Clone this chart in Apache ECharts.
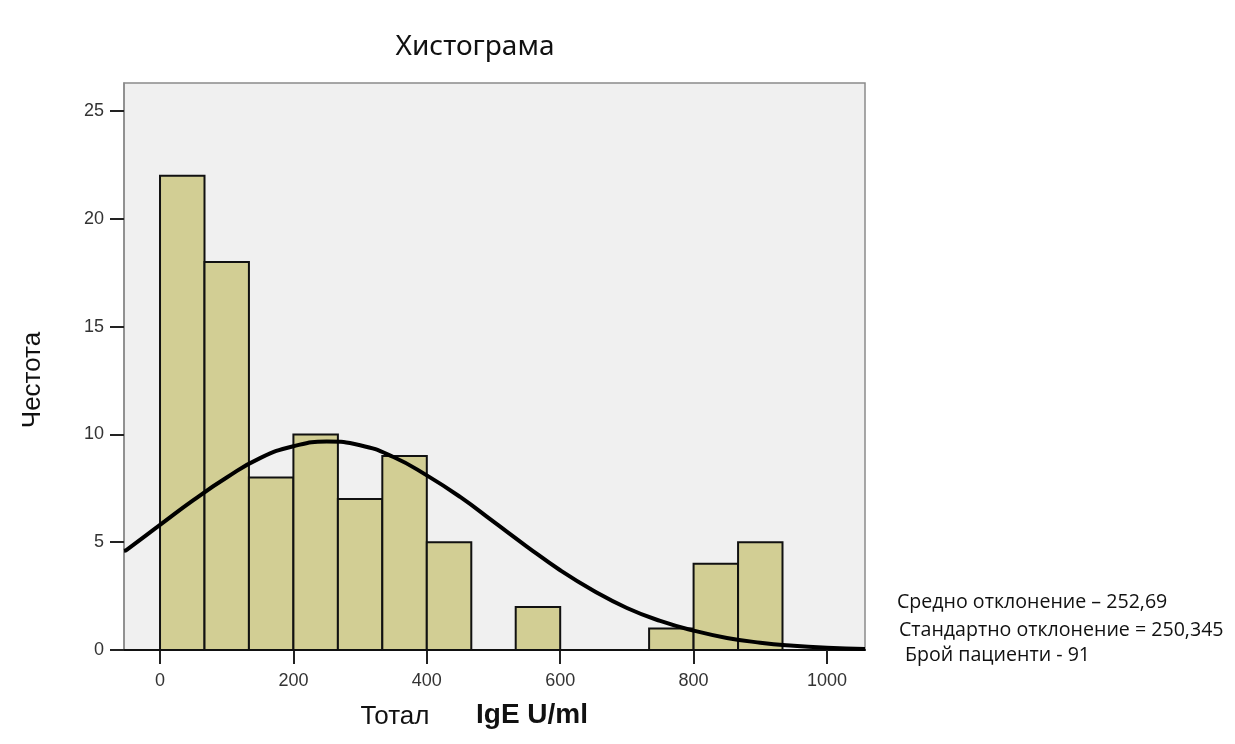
<!DOCTYPE html>
<html><head><meta charset="utf-8">
<script src="https://cdn.jsdelivr.net/npm/echarts@6/dist/echarts.min.js"></script>
<style>html,body{margin:0;padding:0;background:#fff}#c{width:1235px;height:744px}</style>
</head><body><div id="c"></div>
<script>
// Histogram bins (lower edge, upper edge, count)
var binStart = [0, 66.7, 133.3, 200, 266.7, 333.3, 400, 533.3, 733.3, 800, 866.7];
var binEnd   = [66.7, 133.3, 200, 266.7, 333.3, 400, 466.7, 600, 800, 866.7, 933.3];
var counts   = [22, 18, 8, 10, 7, 9, 5, 2, 1, 4, 5];
// Fitted normal curve
var curveX = [-54, -50, 0, 50, 100, 150, 200, 250, 300, 350, 400, 450, 500, 550, 600, 650, 700, 750, 800, 850, 900, 950, 1000, 1057];
var curveY = [4.6, 4.65, 5.8, 6.95, 8.0, 8.9, 9.45, 9.67, 9.5, 8.95, 8.1, 7.1, 5.95, 4.8, 3.7, 2.75, 1.95, 1.35, 0.9, 0.56, 0.34, 0.2, 0.11, 0.05];
var xTicks = [0, 200, 400, 600, 800, 1000];
var yTicks = [0, 5, 10, 15, 20, 25];
var titleText = 'Хистограма';
var yName = 'Честота';
var xName1 = 'Тотал';
var xName2 = 'IgE U/ml';
var notes = ['Средно отклонение – 252,69', 'Стандартно отклонение = 250,345', 'Брой пациенти - 91'];

var bins = binStart.map(function (s, i) { return [s, binEnd[i], counts[i]]; });
var curve = curveX.map(function (x, i) { return [x, curveY[i]]; });

var chart = echarts.init(document.getElementById('c'));
chart.setOption({
  animation: false,
  backgroundColor: '#ffffff',
  grid: { left: 124, top: 83, right: 370, bottom: 94, show: true, backgroundColor: '#f0f0f0', borderColor: '#8a8a8a', borderWidth: 1.5 },
  xAxis: {
    type: 'value', min: -54, max: 1057,
    splitLine: { show: false },
    axisLine: { lineStyle: { color: '#111', width: 2 } },
    axisTick: { customValues: xTicks, length: 14, lineStyle: { color: '#222', width: 2 } },
    axisLabel: { customValues: xTicks, formatter: function (v) { return String(v); }, color: '#333', fontFamily: 'Liberation Sans', fontSize: 18, margin: 22 }
  },
  yAxis: {
    type: 'value', min: 0, max: 26.3,
    splitLine: { show: false },
    axisLine: { show: true, onZero: false, lineStyle: { color: '#8a8a8a', width: 1.5 } },
    axisTick: { show: true, customValues: yTicks, length: 14, lineStyle: { color: '#222', width: 2 } },
    axisLabel: { customValues: yTicks, color: '#333', fontFamily: 'Liberation Sans', fontSize: 18, margin: 20 }
  },
  series: [
    {
      type: 'custom', z: 2,
      data: bins,
      encode: { x: [0, 1], y: 2 },
      renderItem: function (params, api) {
        var p0 = api.coord([api.value(0), api.value(2)]);
        var p1 = api.coord([api.value(1), 0]);
        return {
          type: 'rect',
          shape: { x: p0[0], y: p0[1], width: p1[0] - p0[0], height: p1[1] - p0[1] },
          style: { fill: '#d2ce94', stroke: '#111', lineWidth: 2 }
        };
      }
    },
    {
      type: 'line', z: 5, smooth: true, showSymbol: false,
      data: curve,
      lineStyle: { color: '#000', width: 4 }
    }
  ],
  graphic: [
    { type: 'text', style: { text: titleText, x: 475, y: 47, align: 'center', verticalAlign: 'middle', font: '28px "Noto Sans"', fill: '#111' } },
    { type: 'text', rotation: Math.PI / 2, x: 33, y: 380, style: { text: yName, align: 'center', verticalAlign: 'middle', font: '26px "Liberation Sans"', fill: '#111' } },
    { type: 'text', style: { text: xName1, x: 395, y: 717, align: 'center', verticalAlign: 'middle', font: '26px "Liberation Sans"', fill: '#111' } },
    { type: 'text', style: { text: xName2, x: 532, y: 715, align: 'center', verticalAlign: 'middle', font: 'bold 28px "Liberation Sans"', fill: '#111' } },
    { type: 'text', style: { text: notes[0], x: 897, y: 602, verticalAlign: 'middle', font: '19.6px "Open Sans"', fill: '#111' } },
    { type: 'text', style: { text: notes[1], x: 899, y: 630, verticalAlign: 'middle', font: '19.6px "Open Sans"', fill: '#111' } },
    { type: 'text', style: { text: notes[2], x: 905, y: 655, verticalAlign: 'middle', font: '19.6px "Open Sans"', fill: '#111' } }
  ]
});
</script></body></html>
